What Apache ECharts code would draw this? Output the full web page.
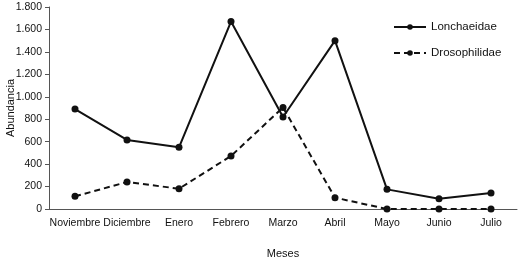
<!DOCTYPE html>
<html><head><meta charset="utf-8">
<script src="https://cdn.jsdelivr.net/npm/echarts@6/dist/echarts.min.js"></script>
<style>html,body{margin:0;padding:0;background:#fff}#c{width:518px;height:260px}</style>
</head><body><div id="c"></div>
<script>
const categories = ['Noviembre','Diciembre','Enero','Febrero','Marzo','Abril','Mayo','Junio','Julio'];
const lonchaeidae = [890, 615, 550, 1670, 820, 1500, 175, 92, 143];
const drosophilidae = [113, 240, 181, 472, 905, 101, 0, 0, 0];
const yTicks = [0, 200, 400, 600, 800, 1000, 1200, 1400, 1600, 1800];

const chart = echarts.init(document.getElementById('c'), null, {renderer:'canvas'});
const font = 'Liberation Sans, Arial, sans-serif';
chart.setOption({
  animation: false,
  backgroundColor: '#fff',
  textStyle: {fontFamily: font},
  grid: {left: 49, right: 1, top: 7, bottom: 51, containLabel: false, outerBoundsMode: 'none'},
  legend: {
    orient: 'vertical', left: 388, top: 16, itemGap: 14, itemWidth: 32, itemHeight: 7,
    textStyle: {fontFamily: font, fontSize: 11.5, color: '#111'},
    data: ['Lonchaeidae', 'Drosophilidae']
  },
  xAxis: {
    type: 'category', data: categories, boundaryGap: true,
    name: 'Meses', nameLocation: 'middle', nameGap: 39,
    nameTextStyle: {fontFamily: font, fontSize: 11, color: '#111'},
    axisLine: {lineStyle: {color: '#555', width: 1}},
    axisTick: {show: false},
    axisLabel: {fontFamily: font, fontSize: 10.5, color: '#111', margin: 9, interval: 0}
  },
  yAxis: {
    type: 'value', min: yTicks[0], max: yTicks[yTicks.length-1], interval: 200,
    name: 'Abundancia', nameLocation: 'middle', nameGap: 33, nameRotate: 90, nameMoveOverlap: false,
    nameTextStyle: {fontFamily: font, fontSize: 11, color: '#111'},
    axisLine: {show: true, lineStyle: {color: '#555', width: 1}},
    axisTick: {show: true, inside: false, length: 4, lineStyle: {color: '#555'}},
    splitLine: {show: false},
    axisLabel: {fontFamily: font, fontSize: 10.5, color: '#111', margin: 7,
      formatter: v => v >= 1000 ? Math.floor(v/1000) + '.' + String(v%1000).padStart(3,'0') : String(v)}
  },
  series: [
    {name: 'Lonchaeidae', type: 'line', data: lonchaeidae, symbol: 'circle', symbolSize: 7,
     lineStyle: {color: '#111', width: 2, type: 'solid'}, itemStyle: {color: '#111'}},
    {name: 'Drosophilidae', type: 'line', data: drosophilidae, symbol: 'circle', symbolSize: 7,
     lineStyle: {color: '#111', width: 2, type: [6, 4]}, itemStyle: {color: '#111'}}
  ]
});
</script></body></html>
